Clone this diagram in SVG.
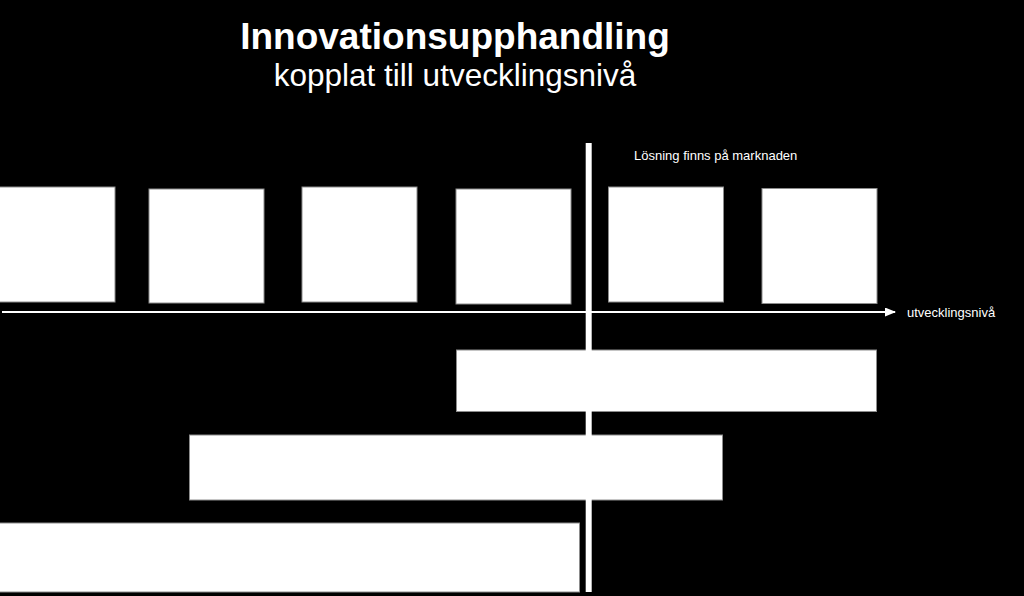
<svg xmlns="http://www.w3.org/2000/svg" width="1024" height="596" viewBox="0 0 1024 596">
<style>
.box{fill:#ffffff;stroke:#8c8c8c;stroke-width:1}
.title{font-family:"Liberation Sans",Arial,sans-serif;font-weight:bold;font-size:37px;fill:#ffffff}
.sub{font-family:"Liberation Sans",Arial,sans-serif;font-size:31.5px;fill:#ffffff}
.lbl{font-family:"Liberation Sans",Arial,sans-serif;font-size:13px;fill:#ffffff}
</style>
<defs>
<marker id="arr" markerWidth="11" markerHeight="9" refX="10" refY="4.5" orient="auto" markerUnits="userSpaceOnUse">
<path d="M0,0 L11,4.5 L0,9 Z" fill="#ffffff"/>
</marker>
</defs>
<rect x="0" y="0" width="1024" height="596" fill="#000000"/>
<text class="title" x="455" y="49" text-anchor="middle">Innovationsupphandling</text>
<text class="sub" x="455" y="86" text-anchor="middle">kopplat till utvecklingsnivå</text>
<g id="b1"><rect class="box" x="-1" y="187" width="116" height="115"/></g>
<g id="b2"><rect class="box" x="149" y="189" width="115" height="114"/></g>
<g id="b3"><rect class="box" x="302" y="187" width="115" height="115"/></g>
<g id="b4"><rect class="box" x="456" y="189" width="115" height="115"/></g>
<g id="b5"><rect class="box" x="608.5" y="187" width="115" height="115"/></g>
<g id="b6"><rect class="box" x="762" y="188.5" width="115" height="115"/></g>
<g id="bar1"><rect class="box" x="456.5" y="350" width="420" height="61.5"/></g>
<g id="bar2"><rect class="box" x="189.5" y="435" width="533" height="65"/></g>
<g id="bar3"><rect class="box" x="-1" y="523" width="580.5" height="69"/></g>
<g id="connectors">
<line x1="2" y1="312" x2="895" y2="312" stroke="#ffffff" stroke-width="2" marker-end="url(#arr)"/>
<line x1="588.7" y1="143" x2="588.7" y2="592" stroke="#ffffff" stroke-width="6"/>
</g>
<text class="lbl" x="634" y="160">Lösning finns på marknaden</text>
<text class="lbl" x="907" y="317">utvecklingsnivå</text>
</svg>
